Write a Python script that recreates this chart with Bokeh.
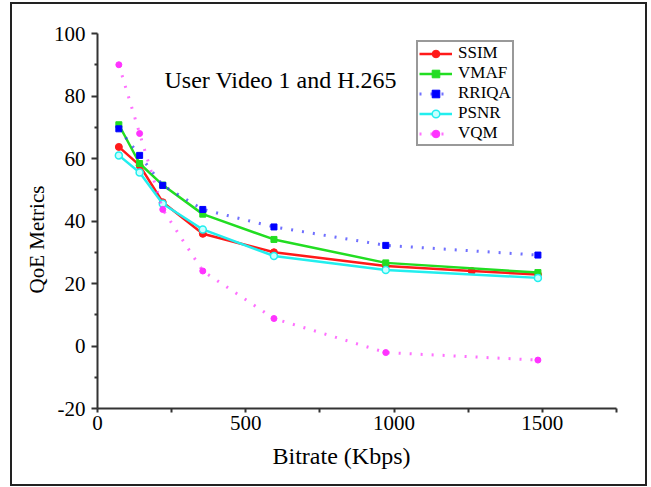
from bokeh.plotting import figure
from bokeh.models import (Range1d, FixedTicker, Label, Legend, LegendItem, Title,
                          PrintfTickFormatter)
from bokeh.embed import file_html
from bokeh.resources import INLINE

# ---- data ----
bitrate = [72, 142, 220, 355, 595, 972, 1485]
ssim_bitrate = [72, 142, 220, 355, 595, 972, 1262, 1485]
ssim = [63.7, 57.8, 46.0, 35.9, 30.0, 25.6, 24.0, 22.9]
vmaf = [70.8, 58.4, 51.5, 42.2, 34.1, 26.6, 23.5]
rriqa = [69.5, 61.0, 51.4, 43.7, 38.1, 32.2, 29.1]
psnr = [61.0, 55.5, 45.5, 37.3, 28.8, 24.3, 21.8]
vqm = [90.0, 68.0, 43.7, 24.0, 8.8, -2.1, -4.5]

x_major = [0, 500, 1000, 1500]
x_minor = [250, 750, 1250, 1750]
y_major = [-20, 0, 20, 40, 60, 80, 100]
y_minor = [-10, 10, 30, 50, 70, 90]

title_text = "User Video 1 and H.265"
x_label = "Bitrate (Kbps)"
y_label = "QoE Metrics"

FONT = "Liberation Serif"

p = figure(width=633, height=480, output_backend="svg", toolbar_location=None,
           x_range=Range1d(0, 1750), y_range=Range1d(-20, 100),
           min_border_left=85, min_border_right=29, min_border_top=29, min_border_bottom=76)
p.styles = {"outline": "2px solid #222222", "position": "relative",
            "left": "12px", "top": "4px"}
p.outline_line_color = None
p.grid.visible = False
p.background_fill_color = "white"
p.border_fill_color = "white"

for ax in (p.xaxis[0], p.yaxis[0]):
    ax.axis_line_color = "#333333"
    ax.axis_line_width = 2
    ax.major_tick_line_color = "#333333"
    ax.minor_tick_line_color = "#333333"
    ax.major_tick_line_width = 2
    ax.minor_tick_line_width = 2
    ax.major_label_text_font = FONT
    ax.major_label_text_font_size = "21px"
    ax.major_label_text_color = "black"
    ax.formatter = PrintfTickFormatter(format="%d")

p.xaxis.ticker = FixedTicker(ticks=x_major, minor_ticks=x_minor)
p.yaxis.ticker = FixedTicker(ticks=y_major, minor_ticks=y_minor)
p.xaxis.major_tick_out = 4
p.xaxis.major_tick_in = 0
p.xaxis.minor_tick_out = 4
p.xaxis.minor_tick_in = 0
p.xaxis.major_label_standoff = 3
p.yaxis.major_tick_out = 6
p.yaxis.major_tick_in = 0
p.yaxis.minor_tick_out = 3
p.yaxis.minor_tick_in = 0
p.yaxis.major_label_standoff = 6

# series
r_ssim_l = p.line(ssim_bitrate, ssim, line_color="#ff1a1a", line_width=2.5)
r_ssim_m = p.scatter(ssim_bitrate, ssim, marker="circle", size=7, fill_color="#ff1a1a", line_color="#ff1a1a")

r_vmaf_l = p.line(bitrate, vmaf, line_color="#22dd22", line_width=2.5)
r_vmaf_m = p.scatter(bitrate, vmaf, marker="square", size=6, fill_color="#22dd22", line_color="#22dd22")

r_rriqa_l = p.line(bitrate, rriqa, line_color="#3333ff", line_width=3, line_dash="2 9", line_alpha=0.7)
r_rriqa_m = p.scatter(bitrate, rriqa, marker="square", size=6, fill_color="#0000ff", line_color="#0000ff")

r_psnr_l = p.line(bitrate, psnr, line_color="#22eeee", line_width=2.5)
r_psnr_m = p.scatter(bitrate, psnr, marker="circle", size=7, fill_color="#c8ffff", line_color="#22eeee", line_width=1.5)

r_vqm_l = p.line(bitrate, vqm, line_color="#ff33ff", line_width=3, line_dash="2 9", line_alpha=0.7)
r_vqm_m = p.scatter(bitrate, vqm, marker="circle", size=6, fill_color="#ff33ff", line_color="#ff33ff")

legend = Legend(items=[
    LegendItem(label="SSIM", renderers=[r_ssim_l, r_ssim_m]),
    LegendItem(label="VMAF", renderers=[r_vmaf_l, r_vmaf_m]),
    LegendItem(label="RRIQA", renderers=[r_rriqa_l, r_rriqa_m]),
    LegendItem(label="PSNR", renderers=[r_psnr_l, r_psnr_m]),
    LegendItem(label="VQM", renderers=[r_vqm_l, r_vqm_m]),
], location=(319, 262))
legend.label_text_font = FONT
legend.label_text_font_size = "17px"
legend.label_text_color = "black"
legend.label_height = 19
legend.glyph_height = 19
legend.glyph_width = 33
legend.label_standoff = 6
legend.spacing = 0
legend.padding = 1
legend.margin = 0
legend.border_line_color = "#333333"
legend.border_line_width = 2
legend.background_fill_color = "white"
legend.background_fill_alpha = 1
p.add_layout(legend, "center")

p.add_layout(Label(x=226, y=85.2, text=title_text, text_font=FONT,
                   text_font_size="24px", text_color="black",
                   text_align="left", text_baseline="alphabetic"))

p.add_layout(Title(text=x_label, align="left", offset=175, standoff=16,
                   text_font=FONT, text_font_size="24px", text_font_style="normal",
                   text_color="black"), "below")
p.add_layout(Title(text=y_label, align="left", offset=115, standoff=3,
                   text_font=FONT, text_font_size="21px", text_font_style="normal",
                   text_color="black"), "left")

open("out.html", "w").write(file_html(p, INLINE))
